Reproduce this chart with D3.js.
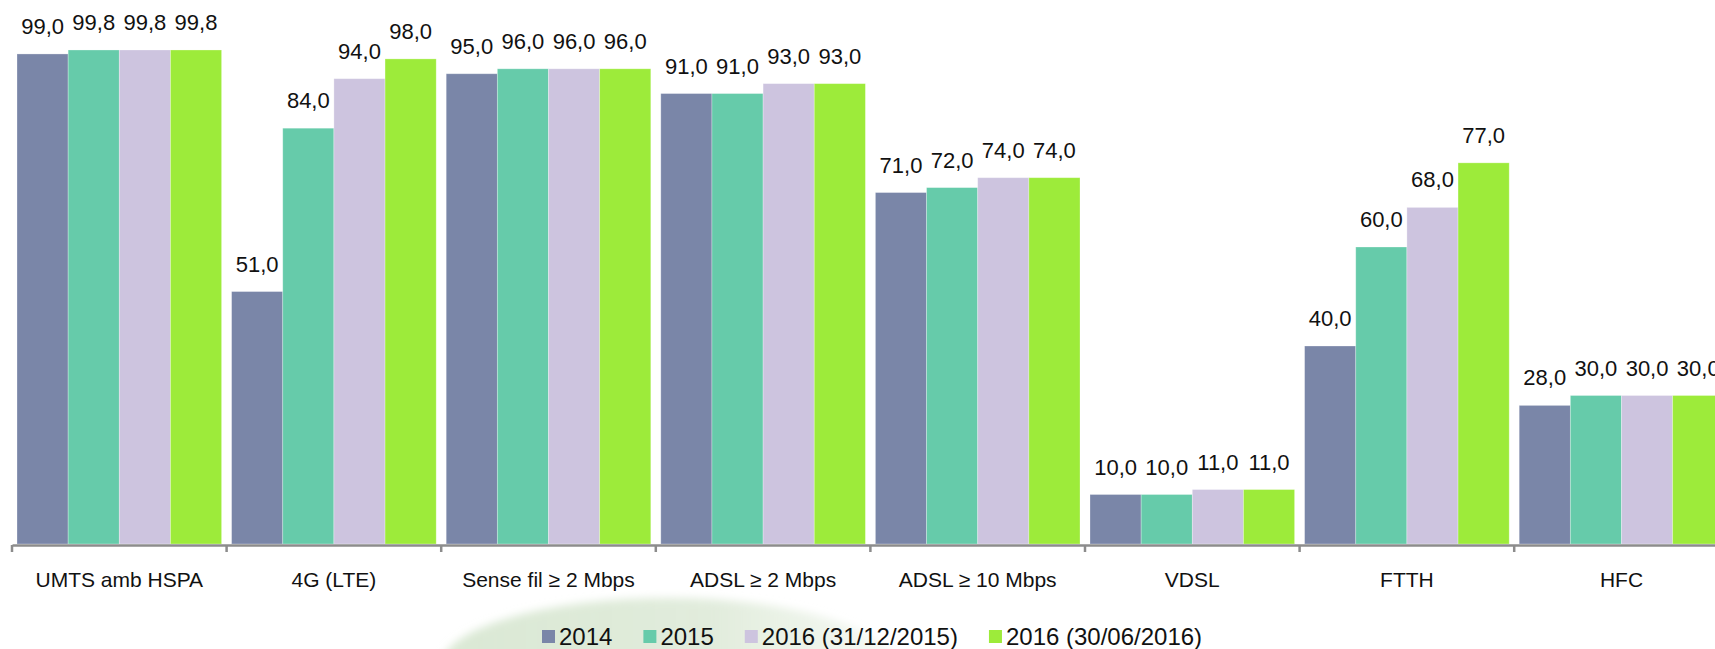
<!DOCTYPE html>
<html>
<head>
<meta charset="utf-8">
<script src="https://cdn.jsdelivr.net/npm/d3@7"></script>
<style>
  html, body { margin: 0; padding: 0; background: #fff; overflow: hidden; }
  svg { display: block; font-family: "Liberation Sans", Arial, sans-serif; }
</style>
</head>
<body>
<svg id="chart" width="1715" height="649"></svg>
<script>
// Broadband / mobile coverage by technology (%)
const categories = ["UMTS amb HSPA", "4G (LTE)", "Sense fil \u2265 2 Mbps", "ADSL \u2265 2 Mbps",
                    "ADSL \u2265 10 Mbps", "VDSL", "FTTH", "HFC"];
const seriesNames = ["2014", "2015", "2016 (31/12/2015)", "2016 (30/06/2016)"];
const values2014  = [99.0, 51.0, 95.0, 91.0, 71.0, 10.0, 40.0, 28.0];
const values2015  = [99.8, 84.0, 96.0, 91.0, 72.0, 10.0, 60.0, 30.0];
const values2016a = [99.8, 94.0, 96.0, 93.0, 74.0, 11.0, 68.0, 30.0];
const values2016b = [99.8, 98.0, 96.0, 93.0, 74.0, 11.0, 77.0, 30.0];
const colors = ["#7a86a8", "#66cbaa", "#cdc4df", "#9deb3a"];

const seriesValues = [values2014, values2015, values2016a, values2016b];

const svg = d3.select("#chart");

// soft background shape behind the legend
const defs = svg.append("defs");
defs.append("filter").attr("id", "soft")
  .attr("x", "-20%").attr("y", "-20%").attr("width", "140%").attr("height", "140%")
  .append("feGaussianBlur").attr("stdDeviation", 4);
const grad = defs.append("linearGradient").attr("id", "leafGrad")
  .attr("x1", "0").attr("y1", "0").attr("x2", "1").attr("y2", "0");
grad.append("stop").attr("offset", "0%").attr("stop-color", "#d6e6cf").attr("stop-opacity", 0.9);
grad.append("stop").attr("offset", "60%").attr("stop-color", "#dce9d6").attr("stop-opacity", 0.85);
grad.append("stop").attr("offset", "100%").attr("stop-color", "#e8f0e4").attr("stop-opacity", 0.4);
svg.append("ellipse")
  .attr("cx", 668).attr("cy", 668).attr("rx", 228).attr("ry", 70)
  .attr("fill", "url(#leafGrad)")
  .attr("filter", "url(#soft)");

// scales
const step = 214.6;
const x0 = d3.scaleBand()
  .domain(categories)
  .range([12, 12 + step * categories.length])
  .padding(0);
const x1 = d3.scaleBand()
  .domain(seriesNames)
  .range([5, x0.bandwidth() - 5])
  .padding(0);
const y = d3.scaleLinear().domain([0, 100]).range([544, 49]);

const fmt = v => d3.format(".1f")(v).replace(".", ",");

// bars
const groups = svg.append("g").selectAll("g")
  .data(categories)
  .join("g")
  .attr("transform", d => `translate(${x0(d)},0)`);

groups.selectAll("rect")
  .data((c, i) => seriesNames.map((s, j) => ({ s, j, v: seriesValues[j][i] })))
  .join("rect")
  .attr("x", d => x1(d.s))
  .attr("y", d => y(d.v))
  .attr("width", x1.bandwidth())
  .attr("height", d => y(0) - y(d.v))
  .attr("fill", d => colors[d.j])
  .attr("stroke", "#ffffff")
  .attr("stroke-opacity", 0.35)
  .attr("stroke-width", 0.8);

// value labels
groups.selectAll("text.val")
  .data((c, i) => seriesNames.map((s, j) => ({ s, j, v: seriesValues[j][i] })))
  .join("text")
  .attr("class", "val")
  .attr("x", d => x1(d.s) + x1.bandwidth() / 2)
  .attr("y", d => y(d.v) - 20)
  .attr("text-anchor", "middle")
  .attr("font-size", 22)
  .attr("fill", "#111")
  .text(d => fmt(d.v));

// x axis
const axis = d3.axisBottom(x0).tickSize(0).tickFormat("");
const axisG = svg.append("g").attr("transform", "translate(0,545)").call(axis);
axisG.select(".domain").attr("stroke", "#8c8c8c").attr("stroke-width", 2.5);
const boundaries = d3.range(categories.length + 1).map(i => 12 + i * x0.step());
axisG.selectAll("line.bound")
  .data(boundaries)
  .join("line")
  .attr("class", "bound")
  .attr("x1", d => d).attr("x2", d => d)
  .attr("y1", 0).attr("y2", 7)
  .attr("stroke", "#8c8c8c")
  .attr("stroke-width", 2.5);

svg.append("g").selectAll("text")
  .data(categories)
  .join("text")
  .attr("x", d => x0(d) + x0.bandwidth() / 2)
  .attr("y", 587)
  .attr("text-anchor", "middle")
  .attr("font-size", 21)
  .attr("fill", "#111")
  .text(d => d);

// legend
const legend = svg.append("g");
let lx = 542;
seriesNames.forEach((name, j) => {
  legend.append("rect")
    .attr("x", lx).attr("y", 630)
    .attr("width", 13).attr("height", 13)
    .attr("fill", colors[j]);
  const t = legend.append("text")
    .attr("x", lx + 17).attr("y", 645)
    .attr("font-size", 24)
    .attr("fill", "#111")
    .text(name);
  lx += 17 + t.node().getComputedTextLength() + 31;
});
</script>
</body>
</html>
